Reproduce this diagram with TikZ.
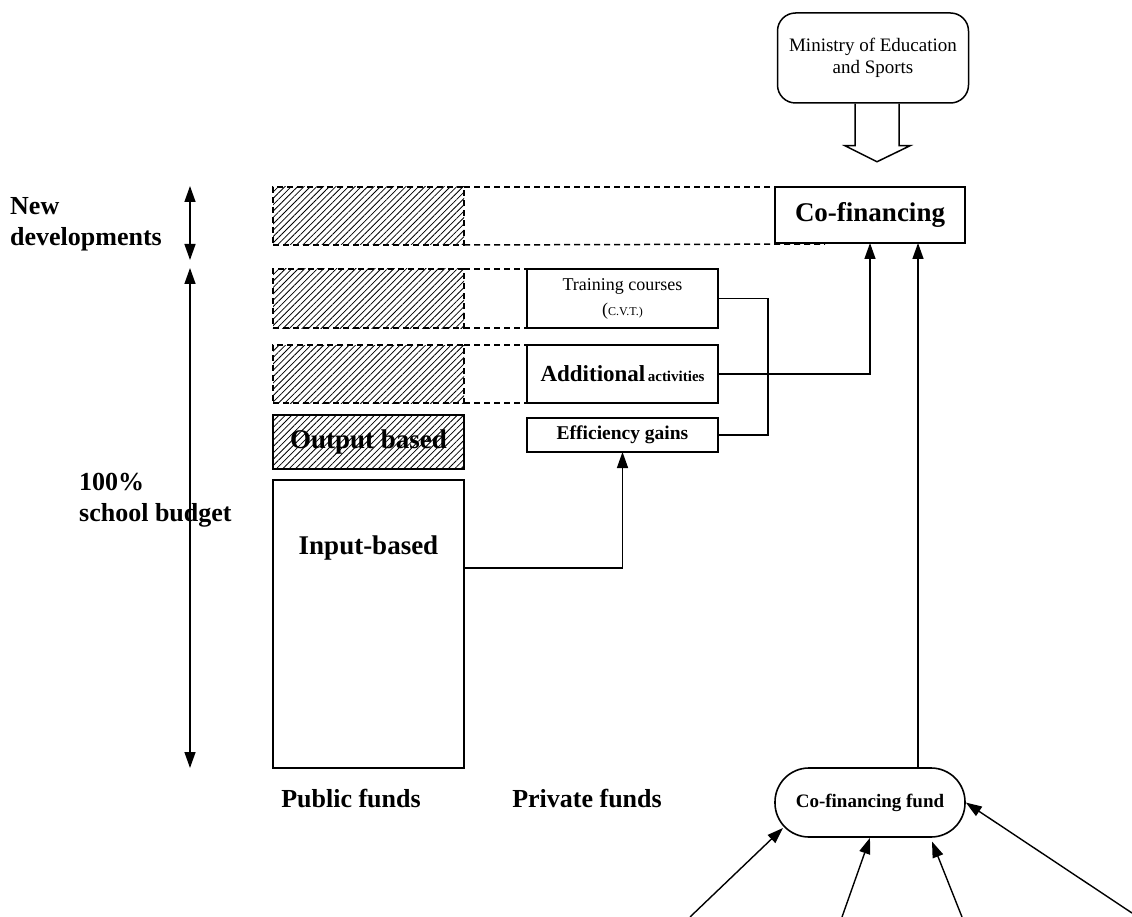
\documentclass[tikz,border=0pt]{standalone}
\usepackage{fontspec}
\setmainfont{Liberation Serif}
\usetikzlibrary{arrows.meta, patterns.meta}
\tikzstyle{startstop} = [rectangle, rounded corners=18pt, minimum width=191pt, minimum height=90pt, text centered, align=center, draw=black, line width=1.5pt, font=\fontsize{19}{22}\selectfont]
\tikzstyle{process} = [rectangle, minimum width=191pt, inner sep=0pt, outer sep=0pt, text centered, align=center, draw=black, line width=1.6pt]
\tikzstyle{fund} = [rectangle, rounded corners=34pt, minimum width=190pt, minimum height=69pt, text centered, draw=black, line width=1.6pt, font=\fontsize{19}{21}\selectfont\bfseries]
\tikzstyle{hatched} = [pattern={Lines[angle=45, distance=4.5pt, line width=0.8pt]}]
\tikzstyle{ghost} = [rectangle, minimum width=191pt, inner sep=0pt, outer sep=0pt, draw=black, dash pattern=on 6pt off 4pt, line width=1.5pt, hatched]
\tikzstyle{dashline} = [draw=black, dash pattern=on 6pt off 4pt, line width=1.5pt]
\tikzstyle{arrow} = [-{Triangle[width=11pt,length=16pt]}, line width=1.4pt]
\tikzstyle{dblarrow} = [{Triangle[width=11pt,length=16pt]}-{Triangle[width=11pt,length=16pt]}, line width=1.4pt]
\tikzstyle{caption} = [font=\fontsize{26}{31}\selectfont\bfseries, align=left, inner sep=0pt]

\begin{document}
\begin{tikzpicture}[x=1pt, y=-1pt]
\useasboundingbox (0,0) rectangle (1132,917);
%ministry and co-financing
\node[startstop](ministry) at (873,58){Ministry of Education\\and Sports};
\draw[line width=1.5pt] ([xshift=-18pt]ministry.south) -- ++(0,42) -- ++(-10,0) -- ++(32,16) -- ++(33,-16) -- ++(-11,0) -- ++(0,-42);
\node[process, minimum width=190pt, minimum height=56pt, font=\fontsize{27}{30}\selectfont\bfseries](cofin) at (870,215){Co-financing};
%public funds
\node[ghost, minimum height=58pt](newdev) at (368.5,216){};
\node[ghost, minimum height=59pt](ghost2) at (368.5,298.5){};
\node[ghost, minimum height=58pt](ghost3) at (368.5,374){};
\node[process, minimum height=54pt, font=\fontsize{27}{30}\selectfont\bfseries](output) at (368.5,442){Output based};
\path[hatched] (output.south west) rectangle (output.north east);
\node[process, minimum height=288pt](input) at (368.5,624){};
\node[font=\fontsize{27}{30}\selectfont\bfseries](inputtext) at (368.5,548){Input-based};
%private funds
\node[process, minimum height=59pt, font=\fontsize{18}{25}\selectfont](train) at (622.5,298.5){Training courses\\({\fontsize{12}{14}\selectfont C.V.T.)}};
\node[process, minimum height=58pt, font=\bfseries](addit) at (622.5,374){{\fontsize{23}{26}\selectfont Additional} {\fontsize{15}{18}\selectfont activities}};
\node[process, minimum height=34pt, font=\fontsize{19.5}{22}\selectfont\bfseries](effic) at (622.5,435){Efficiency gains};
\node[fund](fund) at (870,802.5){Co-financing fund};
%captions
\node[caption, anchor=north west](newlbl) at (10,197){New\\developments};
\node[caption, anchor=north west](budgetlbl) at (79,473){100\%\\school budget};
\node[caption, anchor=base](publbl) at (351,807){Public funds};
\node[caption, anchor=base](privlbl) at (587,807){Private funds};
%dashed guides
\coordinate (dashend) at (825,244);
\draw[dashline] (newdev.north east) -- (cofin.north west);
\draw[dashline] (newdev.south east) -- (dashend);
\draw[dashline] (ghost2.north east) -- (train.north west);
\draw[dashline] (ghost2.south east) -- (train.south west);
\draw[dashline] (ghost3.north east) -- (addit.north west);
\draw[dashline] (ghost3.south east) -- (addit.south west);
%left ranges
\coordinate (r1top) at (190,186);
\coordinate (r1bot) at (190,260);
\coordinate (r2top) at (190,268);
\coordinate (r2bot) at (190,768);
\draw[dblarrow] (r1top) -- (r1bot);
\draw[dblarrow] (r2top) -- (r2bot);
%connect boxes
\draw[line width=1.4pt] (train.east) -- ++(50,0) |- (effic.east);
\draw[arrow] (addit.east) -| (cofin.south);
\draw[arrow] ([yshift=56pt]input.east) -| (effic.south);
\draw[arrow] ([xshift=48pt]fund.north) -- ([xshift=48pt]cofin.south);
%incoming contributions
\coordinate (src1) at (690,917);
\coordinate (src2) at (842,917);
\coordinate (src3) at (962,917);
\coordinate (src4) at (1132,913);
\draw[arrow] (src1) -- ([shift={(-87,25.5)}]fund.center);
\draw[arrow] (src2) -- (fund.south);
\draw[arrow] (src3) -- ([shift={(62,39)}]fund.center);
\draw[arrow] (src4) -- (fund.east);
\end{tikzpicture}
\end{document}
